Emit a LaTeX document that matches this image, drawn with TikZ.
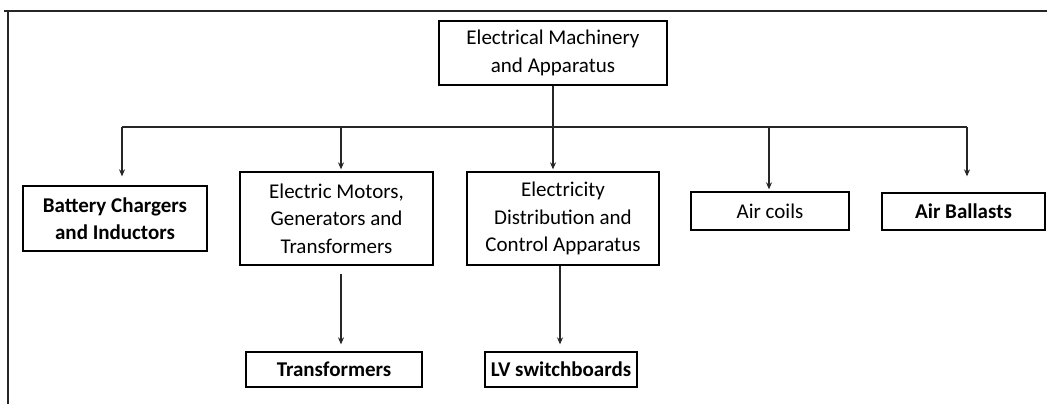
\documentclass[tikz,border=0pt]{standalone}
\usepackage{fontspec}
\setmainfont{Carlito}
\usetikzlibrary{arrows.meta}
\begin{document}
\begin{tikzpicture}[x=1pt,y=-1pt,
  box/.style={draw=black, line width=1.3pt, inner sep=0pt, align=center,
    font=\fontsize{21}{27.5}\selectfont},
  boldbox/.style={box, font=\fontsize{21}{27.5}\selectfont\bfseries},
  link/.style={draw=black!85, line width=1.2pt},
  arr/.style={link, -{Stealth[length=7pt,width=6pt]}}]
\useasboundingbox (0,0) rectangle (1047,404);
% frame (cropped)
\draw[link] (4,11) -- (1047,11);
\draw[link] (8,11) -- (8,404);
% nodes
\node[box, minimum width=228pt, minimum height=64pt] (top) at (553,53) {Electrical Machinery\\and Apparatus};
\node[boldbox, minimum width=184pt, minimum height=65pt] (battery) at (115,218.5) {Battery Chargers\\and Inductors};
\node[box, minimum width=193pt, minimum height=93pt] (motors) at (336.5,218.5) {Electric Motors,\\Generators and\\Transformers};
\node[box, minimum width=192pt, minimum height=93pt] (elec) at (563,218.5) {Electricity\\Distribution and\\Control Apparatus};
\node[box, minimum width=158pt, minimum height=38pt] (aircoils) at (770,211) {Air coils};
\node[boldbox, minimum width=163pt, minimum height=37pt] (airballasts) at (963.5,211.5) {Air Ballasts};
\node[boldbox, minimum width=176pt, minimum height=35pt] (transformers) at (334,369.5) {Transformers};
\node[boldbox, minimum width=152pt, minimum height=35pt] (lv) at (561,369.5) {LV switchboards};
% bus coordinates
\coordinate (bus) at (553,127);
\coordinate (b1) at (122,127);
\coordinate (b2) at (341,127);
\coordinate (b4) at (769,127);
\coordinate (b5) at (967,127);
\draw[link] (top.south) -- (bus);
\draw[link] (b1) -- (b5);
\draw[arr, shorten >=9pt] (b1) -- (b1 |- battery.north);
\draw[arr, shorten >=2pt] (b2) -- (b2 |- motors.north);
\draw[arr, shorten >=2pt] (bus) -- (elec.north -| bus);
\draw[arr, shorten >=2pt] (b4) -- (b4 |- aircoils.north);
\draw[arr, shorten >=16pt] (b5) -- (b5 |- airballasts.north);
% lower arrows
\coordinate (m1) at ([xshift=4.5pt]motors.south);
\coordinate (e1) at ([xshift=-3pt]elec.south);
\draw[arr, shorten <=8pt, shorten >=7pt] (m1) -- (m1 |- transformers.north);
\draw[arr, shorten >=7pt] (e1) -- (e1 |- lv.north);
\end{tikzpicture}
\end{document}
